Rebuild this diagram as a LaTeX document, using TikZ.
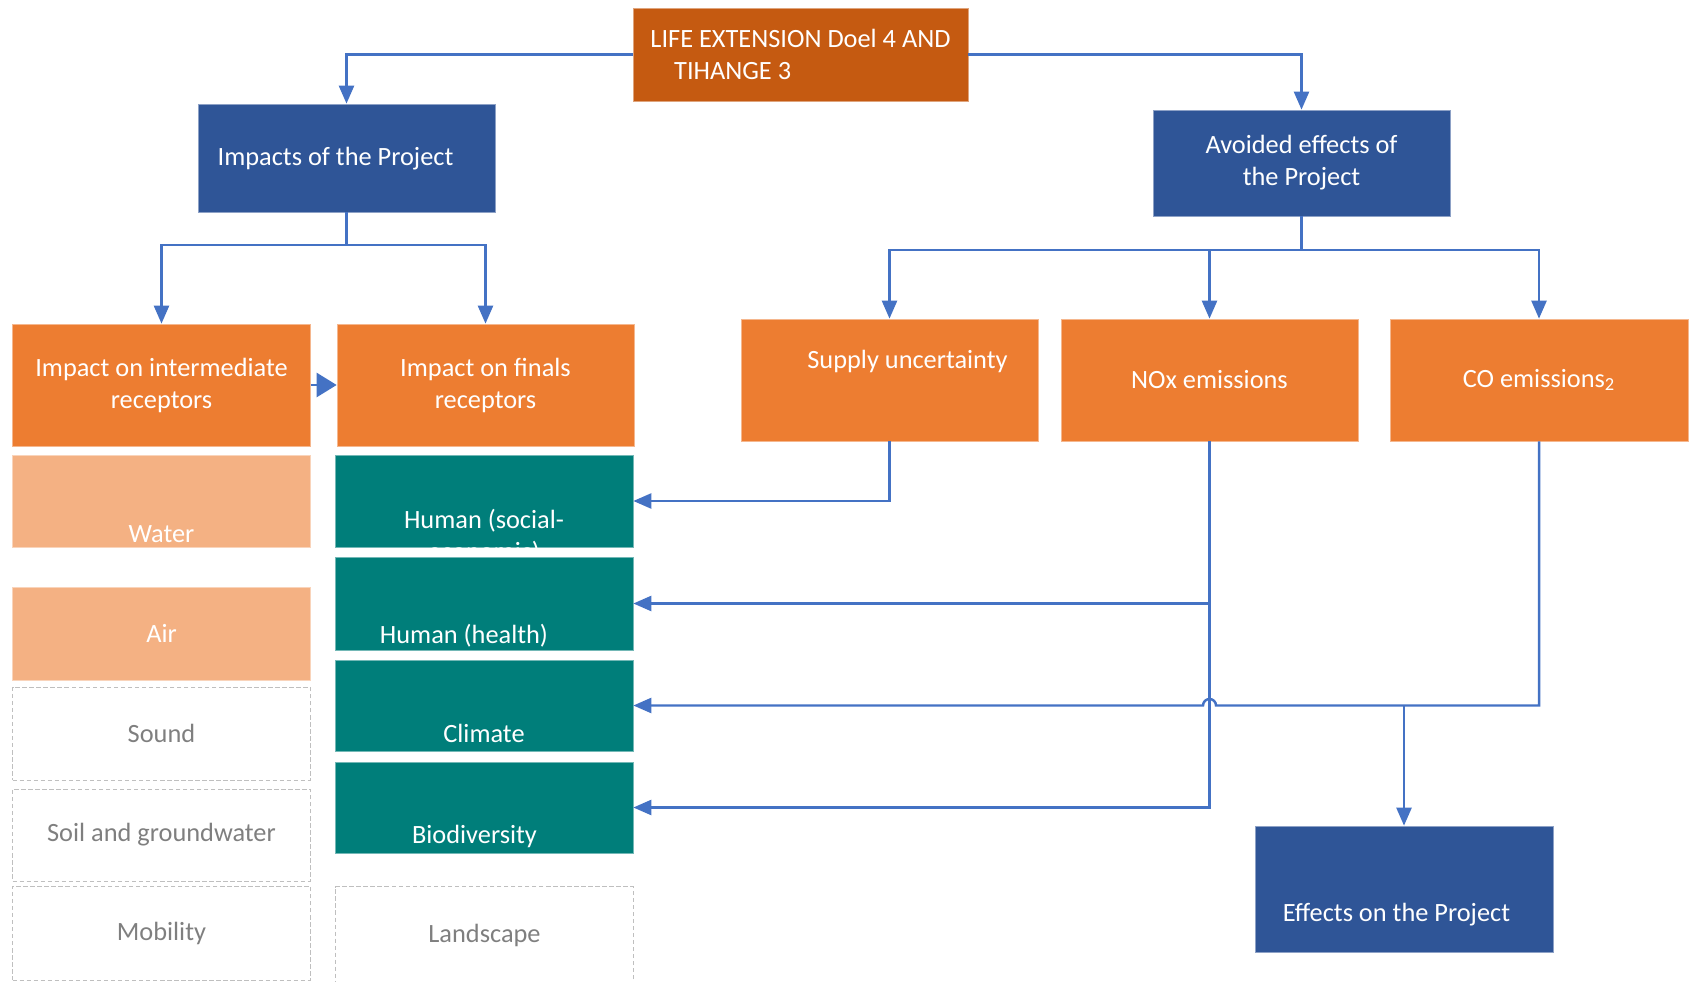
\documentclass[tikz,border=0pt]{standalone}
\usepackage{fontspec}
\setmainfont{Carlito}
\usetikzlibrary{arrows.meta}
\definecolor{rust}{HTML}{C55A11}
\definecolor{navy}{HTML}{2F5597}
\definecolor{amber}{HTML}{ED7D31}
\definecolor{peach}{HTML}{F4B183}
\definecolor{sea}{HTML}{007E7A}
\definecolor{link}{HTML}{4472C4}
\definecolor{ghost}{HTML}{BFBFBF}
\definecolor{greytext}{HTML}{7F7F7F}
% text moved sideways (optional) and up or down inside its box
\newcommand\shifttext[3][0cm]{\raisebox{#2}[0pt][0pt]{\makebox[0pt]{\hspace*{#1}\hspace*{#1}%
    \begin{tabular}{@{}c@{}}#3\end{tabular}}}}

\begin{document}
\begin{tikzpicture}[x=0.02cm,y=-0.02cm,
    box/.style={draw=#1!55!white,fill=#1,text=white,inner sep=0pt,
        minimum width=5.96cm,align=center,font=\fontsize{15}{18.2}\selectfont},
    ghostbox/.style={draw=ghost,dash pattern=on 2.5pt off 1.5pt,text=greytext,
        inner sep=0pt,minimum width=5.96cm,font=\fontsize{15}{18.2}\selectfont},
    arrow/.style={draw=link,line width=1.4pt,-{Triangle[length=0.36cm,width=0.3cm]}},
    line/.style={draw=link,line width=1.4pt}]
    \useasboundingbox (0,0) rectangle (1689,982);
    % top row
    \node[box=rust,minimum width=6.7cm,minimum height=1.86cm,align=left] (life) at (800.5,54.5)
        {LIFE EXTENSION Doel 4 AND\\\hspace*{0.9em}TIHANGE 3};
    \node[box=navy,minimum width=5.94cm,minimum height=2.16cm] (imp) at (346.5,158)
        {\shifttext[-0.22cm]{-0.15cm}{Impacts of the Project}};
    \node[box=navy,minimum width=5.94cm,minimum height=2.12cm] (avoid) at (1301.5,163) {Avoided effects of\\the Project};
    % receptors
    \node[box=amber,minimum height=2.44cm] (inter) at (161.5,385) {Impact on intermediate\\receptors};
    \node[box=amber,minimum width=5.94cm,minimum height=2.44cm] (final) at (485.5,385) {Impact on finals\\receptors};
    \node[box=amber,minimum width=5.94cm,minimum height=2.44cm] (sup) at (889.5,380) {\shifttext[0.36cm]{0.23cm}{Supply uncertainty}};
    \node[box=amber,minimum width=5.94cm,minimum height=2.44cm] (nox) at (1209.5,380) {NOx emissions};
    \node[box=amber,minimum height=2.44cm] (co) at (1539,380) {CO emissions\textsubscript{2}};
    % intermediate receptors
    \node[box=peach,minimum height=1.84cm] (water) at (161.5,501) {\shifttext{-0.82cm}{Water}};
    \node[box=peach,minimum height=1.86cm] (air) at (161.5,633.5) {Air};
    \node[ghostbox,minimum height=1.86cm] (sound) at (161.5,733.5) {Sound};
    \node[ghostbox,minimum height=1.84cm] (soil) at (161.5,835) {Soil and groundwater};
    \node[ghostbox,minimum height=1.88cm] (mob) at (161.5,933) {Mobility};
    % final receptors
    \node[box=sea,minimum height=1.84cm] (hs) at (484,501) {\shifttext{-0.86cm}{Human (social-\\economic)}};
    \node[box=sea,minimum height=1.86cm] (hh) at (484,603.5) {\shifttext[-0.4cm]{-0.8cm}{Human (health)}};
    \node[box=sea,minimum height=1.82cm] (clim) at (484,705.5) {\shifttext{-0.74cm}{Climate}};
    \node[box=sea,minimum height=1.82cm] (bio) at (484,807.5) {\shifttext[-0.19cm]{-0.71cm}{Biodiversity}};
    \node[ghostbox,minimum height=1.94cm] (land) at (484.5,935) {Landscape};
    % bottom right
    \node[box=navy,minimum height=2.52cm] (eff) at (1404,889) {\shifttext[-0.15cm]{-0.64cm}{Effects on the Project}};
    % connectors
    \draw[arrow] (life.west) -| (imp.north);
    \draw[arrow] (life.east) -| (avoid.north);
    \coordinate (ib) at (imp.south |- 0,245);
    \coordinate (ab) at (avoid.south |- 0,250);
    \draw[line] (imp.south) -- (ib);
    \draw[arrow] (ib) -| (inter.north);
    \draw[arrow] (ib) -| (final.north);
    \draw[line] (avoid.south) -- (ab);
    \foreach \n in {sup,nox,co}
        \draw[arrow] (ab) -| (\n.north);
    \draw[draw=link,line width=1.4pt,-{Triangle[length=0.4cm,width=0.48cm]}] (inter.east) -- (final.west);
    \draw[arrow] (sup.south) |- (hs.east);
    \draw[arrow] (nox.south) |- (bio.east);
    \draw[arrow] (nox.south |- hh.east) -- (hh.east);
    \draw[arrow] (co.south) |- ([xshift=0.13cm]nox.south |- clim.east)
        arc[start angle=0,end angle=180,radius=0.13cm] -- (clim.east);
    \draw[arrow] (eff.north |- clim.east) -- (eff.north);
\end{tikzpicture}
\end{document}
